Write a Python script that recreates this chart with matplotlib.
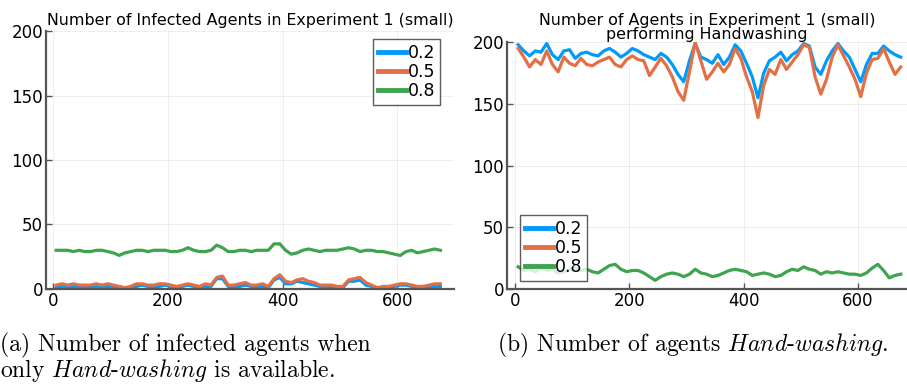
import matplotlib
matplotlib.use("Agg")
import matplotlib.pyplot as plt

# time steps (every 10 steps)
steps = list(range(5, 685, 10))
labels = ["0.2", "0.5", "0.8"]
colors = ["#009AFA", "#E36F47", "#3EA44E"]

# (a) infected agents
infected_02 = [1, 2, 2, 2, 2, 2, 1, 2, 2, 2, 2, 1, 1, 1, 2, 3, 2, 2, 2, 3,
               2, 1, 2, 3, 2, 1, 2, 2, 8, 8, 2, 2, 2, 3, 2, 2, 2, 1, 7, 9,
               4, 4, 6, 5, 4, 3, 2, 2, 2, 1, 1, 6, 6, 7, 3, 2, 1, 1, 1, 2,
               3, 3, 2, 1, 1, 2, 2, 2]
infected_05 = [3, 4, 3, 4, 3, 3, 3, 4, 3, 4, 3, 2, 1, 2, 4, 4, 3, 3, 4, 4,
               3, 2, 3, 4, 3, 2, 4, 3, 9, 10, 3, 3, 4, 5, 3, 3, 4, 2, 8, 11,
               6, 5, 7, 8, 6, 5, 3, 3, 3, 2, 2, 7, 8, 9, 5, 3, 1, 2, 2, 3,
               4, 4, 3, 2, 2, 3, 4, 4]
infected_08 = [30, 30, 30, 29, 30, 29, 29, 30, 30, 29, 28, 26, 28, 29, 30, 30, 29, 30, 30, 30,
               29, 29, 30, 32, 30, 29, 29, 30, 34, 32, 29, 29, 30, 30, 29, 30, 30, 30, 35, 35,
               30, 27, 28, 30, 31, 30, 29, 30, 30, 30, 31, 32, 31, 29, 30, 30, 29, 29, 28, 27,
               26, 29, 30, 28, 29, 30, 31, 30]

# (b) agents performing handwashing
hw_02 = [198, 193, 189, 193, 192, 199, 190, 186, 193, 194, 187, 191, 192, 190, 189, 193, 195, 192, 188, 191,
         195, 193, 190, 188, 186, 191, 188, 182, 174, 168, 185, 199, 188, 186, 183, 190, 182, 188, 198, 193,
         183, 172, 155, 175, 185, 188, 192, 185, 190, 193, 199, 197, 180, 174, 185, 193, 199, 193, 188, 178,
         168, 182, 191, 191, 197, 193, 190, 188]
hw_05 = [195, 188, 180, 186, 182, 193, 182, 176, 188, 183, 181, 187, 182, 181, 184, 186, 188, 182, 180, 186,
         189, 186, 185, 173, 180, 187, 181, 172, 160, 153, 176, 200, 185, 170, 176, 183, 176, 182, 195, 187,
         172, 160, 139, 165, 178, 174, 186, 178, 184, 190, 198, 196, 172, 158, 170, 188, 198, 189, 180, 170,
         156, 175, 186, 187, 195, 184, 174, 180]
hw_08 = [18, 15, 16, 14, 17, 15, 16, 13, 14, 16, 17, 15, 16, 14, 13, 16, 19, 20, 16, 14,
         15, 15, 13, 10, 7, 10, 12, 13, 12, 10, 12, 16, 13, 12, 10, 11, 13, 15, 16, 15,
         14, 11, 12, 13, 12, 10, 11, 14, 16, 15, 18, 16, 15, 12, 14, 13, 14, 13, 12, 12,
         11, 13, 17, 20, 15, 9, 11, 12]

titles = ["Number of Infected Agents in Experiment 1 (small)",
          "Number of Agents in Experiment 1 (small)\nperforming Handwashing"]

plt.rcParams["mathtext.fontset"] = "cm"

fig = plt.figure(figsize=(9.07, 3.85), dpi=100)
ax1 = fig.add_axes([0.0507, 0.2494, 0.450, 0.670])
ax2 = fig.add_axes([0.559, 0.2494, 0.441, 0.6407])


def style_axes(ax, xlim):
    ax.set_xlim(*xlim)
    ax.set_ylim(0, 200)
    ax.set_xticks([0, 200, 400, 600])
    ax.set_yticks([0, 50, 100, 150, 200])
    ax.grid(True, color="black", alpha=0.08, lw=0.6)
    for s in ["top", "right"]:
        ax.spines[s].set_visible(False)
    for s in ["left", "bottom"]:
        ax.spines[s].set_color("#555555")
        ax.spines[s].set_linewidth(1.6)
    ax.tick_params(direction="in", length=4, width=1, color="#555555",
                   labelsize=12, pad=2)


for ax, series, xlim in [(ax1, [infected_02, infected_05, infected_08], (-12.7, 699)),
                         (ax2, [hw_02, hw_05, hw_08], (-14.5, 686))]:
    for vals, lab, col in zip(series, labels, colors):
        ax.plot(steps, vals, color=col, lw=2.3, label=lab)
    style_axes(ax, xlim)

ax1.set_title(titles[0], fontsize=11.4, pad=4)
ax2.set_title(titles[1], fontsize=11.4, pad=-1, linespacing=0.95)

leg_kw = dict(fontsize=12.5, frameon=True, fancybox=False, handlelength=1.6,
              handletextpad=0.1, borderpad=0.3, labelspacing=0.05,
              borderaxespad=0)
l1 = ax1.legend(loc="upper right", bbox_to_anchor=(0.966, 0.969), **leg_kw)
l2 = ax2.legend(loc="lower left", bbox_to_anchor=(0.0325, 0.032), **leg_kw)
for leg in (l1, l2):
    leg.get_frame().set_edgecolor("#333333")
    leg.get_frame().set_linewidth(1.0)
    for h in leg.get_lines():
        h.set_linewidth(3.5)

cap_kw = dict(fontsize=17, family="cmr10", va="baseline", ha="left")
fig.text(0.0, 0.088, "(a) Number of infected agents when", **cap_kw)
fig.text(0.0, 0.02, r"only $\mathit{Hand}$-$\mathit{washing}$ is available.", **cap_kw)
fig.text(0.548, 0.088, r"(b) Number of agents $\mathit{Hand}$-$\mathit{washing}$.", **cap_kw)

fig.savefig("out.png", dpi=100)
